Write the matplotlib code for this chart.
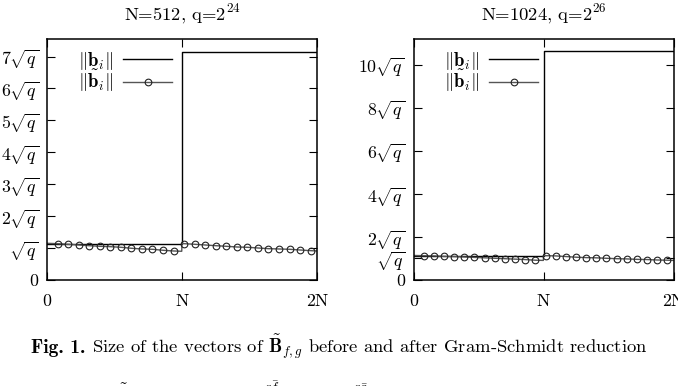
import numpy as np
import matplotlib
matplotlib.use("Agg")
import matplotlib.pyplot as plt

plt.rcParams['font.family'] = ['cmr10', 'DejaVu Serif']
plt.rcParams['mathtext.fontset'] = 'cm'
plt.rcParams['axes.formatter.use_mathtext'] = True

# panel settings
titles = [r"N=512, q=2$^{24}$", r"N=1024, q=2$^{26}$"]
N_values = [512, 1024]
ylims = [7.55, 11.2]
ytick_values = [[0, 1, 2, 3, 4, 5, 6, 7], [0, 1, 2, 4, 6, 8, 10]]
ytick_labels = [
    ["0", r"$\sqrt{q}$", r"$2\sqrt{q}$", r"$3\sqrt{q}$", r"$4\sqrt{q}$",
     r"$5\sqrt{q}$", r"$6\sqrt{q}$", r"$7\sqrt{q}$"],
    ["0", r"$\sqrt{q}$", r"$2\sqrt{q}$", r"$4\sqrt{q}$", r"$6\sqrt{q}$",
     r"$8\sqrt{q}$", r"$10\sqrt{q}$"],
]
xtick_labels = ["0", "N", "2N"]

# ||b_i|| : first half level, second half level (in units of sqrt(q))
b_low = [1.14, 1.13]
b_high = [7.14, 10.65]

# ||b~_i|| sampled at marker positions (every 40 / every 80 indices)
marker_step = [40, 80]
gs_start = [1.15, 1.14]
gs_first_half = [
    [1.138, 1.119, 1.097, 1.075, 1.056, 1.044, 1.025, 0.994, 0.972, 0.962, 0.931, 0.909],
    [1.13, 1.12, 1.10, 1.09, 1.07, 1.05, 1.03, 1.01, 0.99, 0.97, 0.95, 0.92],
]
gs_mid_end = [0.90, 0.91]
gs_mid_start = [1.15, 1.14]
gs_second_half = [
    [1.138, 1.119, 1.097, 1.075, 1.056, 1.034, 1.025, 1.003, 0.982, 0.972, 0.962, 0.940, 0.919],
    [1.13, 1.12, 1.09, 1.06, 1.04, 1.03, 1.01, 0.99, 0.98, 0.96, 0.95, 0.93, 0.92],
]
gs_end = [0.91, 0.91]

fig = plt.figure(figsize=(6.78, 3.86), dpi=100)
positions = [[47/678, 106/386, 270/678, 241/386],
             [413.5/678, 106/386, 260/678, 241/386]]
legend_anchor = [(172 - 47) / 270, (538 - 413.5) / 260]

for k in range(2):
    ax = fig.add_axes(positions[k])
    N = N_values[k]
    step = marker_step[k]

    # step line of ||b_i||
    ax.plot([0, N, 2 * N], [b_low[k], b_high[k], b_high[k]],
            drawstyle='steps-post', color='black', lw=1.0,
            label=r"$\Vert\mathbf{b}_i\Vert$")

    # Gram-Schmidt norms
    m1 = list(range(step, N, step))[:len(gs_first_half[k])]
    m2 = list(range(step * (N // step + 1), 2 * N, step))[:len(gs_second_half[k])]
    xs = [0] + m1 + [N - 1, N] + m2 + [2 * N - 1]
    ys = [gs_start[k]] + gs_first_half[k] + [gs_mid_end[k], gs_mid_start[k]] + gs_second_half[k] + [gs_end[k]]
    marks = list(range(1, 1 + len(m1))) + list(range(3 + len(m1), 3 + len(m1) + len(m2)))
    ax.plot(xs, ys, color='#555555', lw=1.0, marker='o', markevery=marks,
            markersize=4.8, markerfacecolor='none', markeredgecolor='#222222',
            markeredgewidth=0.8, label=r"$\Vert\tilde{\mathbf{b}}_i\Vert$")

    ax.set_xlim(0, 2 * N)
    ax.set_ylim(0, ylims[k])
    ax.set_xticks([0, N, 2 * N])
    ax.set_xticklabels(xtick_labels)
    ax.set_yticks(ytick_values[k])
    ax.set_yticklabels(ytick_labels[k])
    ax.tick_params(direction='in', length=6, width=0.8, top=True, right=True,
                   labelsize=12.8, colors='black')
    ax.tick_params(axis='x', pad=10)
    ax.tick_params(axis='y', pad=6)
    for s in ax.spines.values():
        s.set_linewidth(1.1)
    ax.set_title(titles[k], fontsize=13.4, pad=14)

    leg = ax.legend(loc='upper right', bbox_to_anchor=(legend_anchor[k], 0.955),
                    frameon=False, markerfirst=False, fontsize=13.5,
                    handlelength=2.6, handletextpad=0.55, labelspacing=-0.2,
                    borderpad=0.0, borderaxespad=0.0)

# caption
fig.text(31/678, 1 - 353/386, "Fig. 1.", family='cmb10', fontsize=14, ha='left', va='baseline')
fig.text(92/678, 1 - 353/386,
         r"Size of the vectors of $\tilde{\mathbf{B}}_{f,g}$ before and after Gram-Schmidt reduction",
         fontsize=13.4, ha='left', va='baseline')
fig.text(107/678, 1 - 401/386,
         r"$\Vert\tilde{\mathbf{b}}_{N+1}\Vert\quad=\quad\Vert(\frac{q\bar{f}}{f\ast\bar{f}+g\ast\bar{g}},\quad\frac{q\bar{g}}{f\ast\bar{f}+g\ast\bar{g}})\Vert$",
         fontsize=13.4, ha='left', va='baseline')

fig.savefig("out.png", dpi=100)
